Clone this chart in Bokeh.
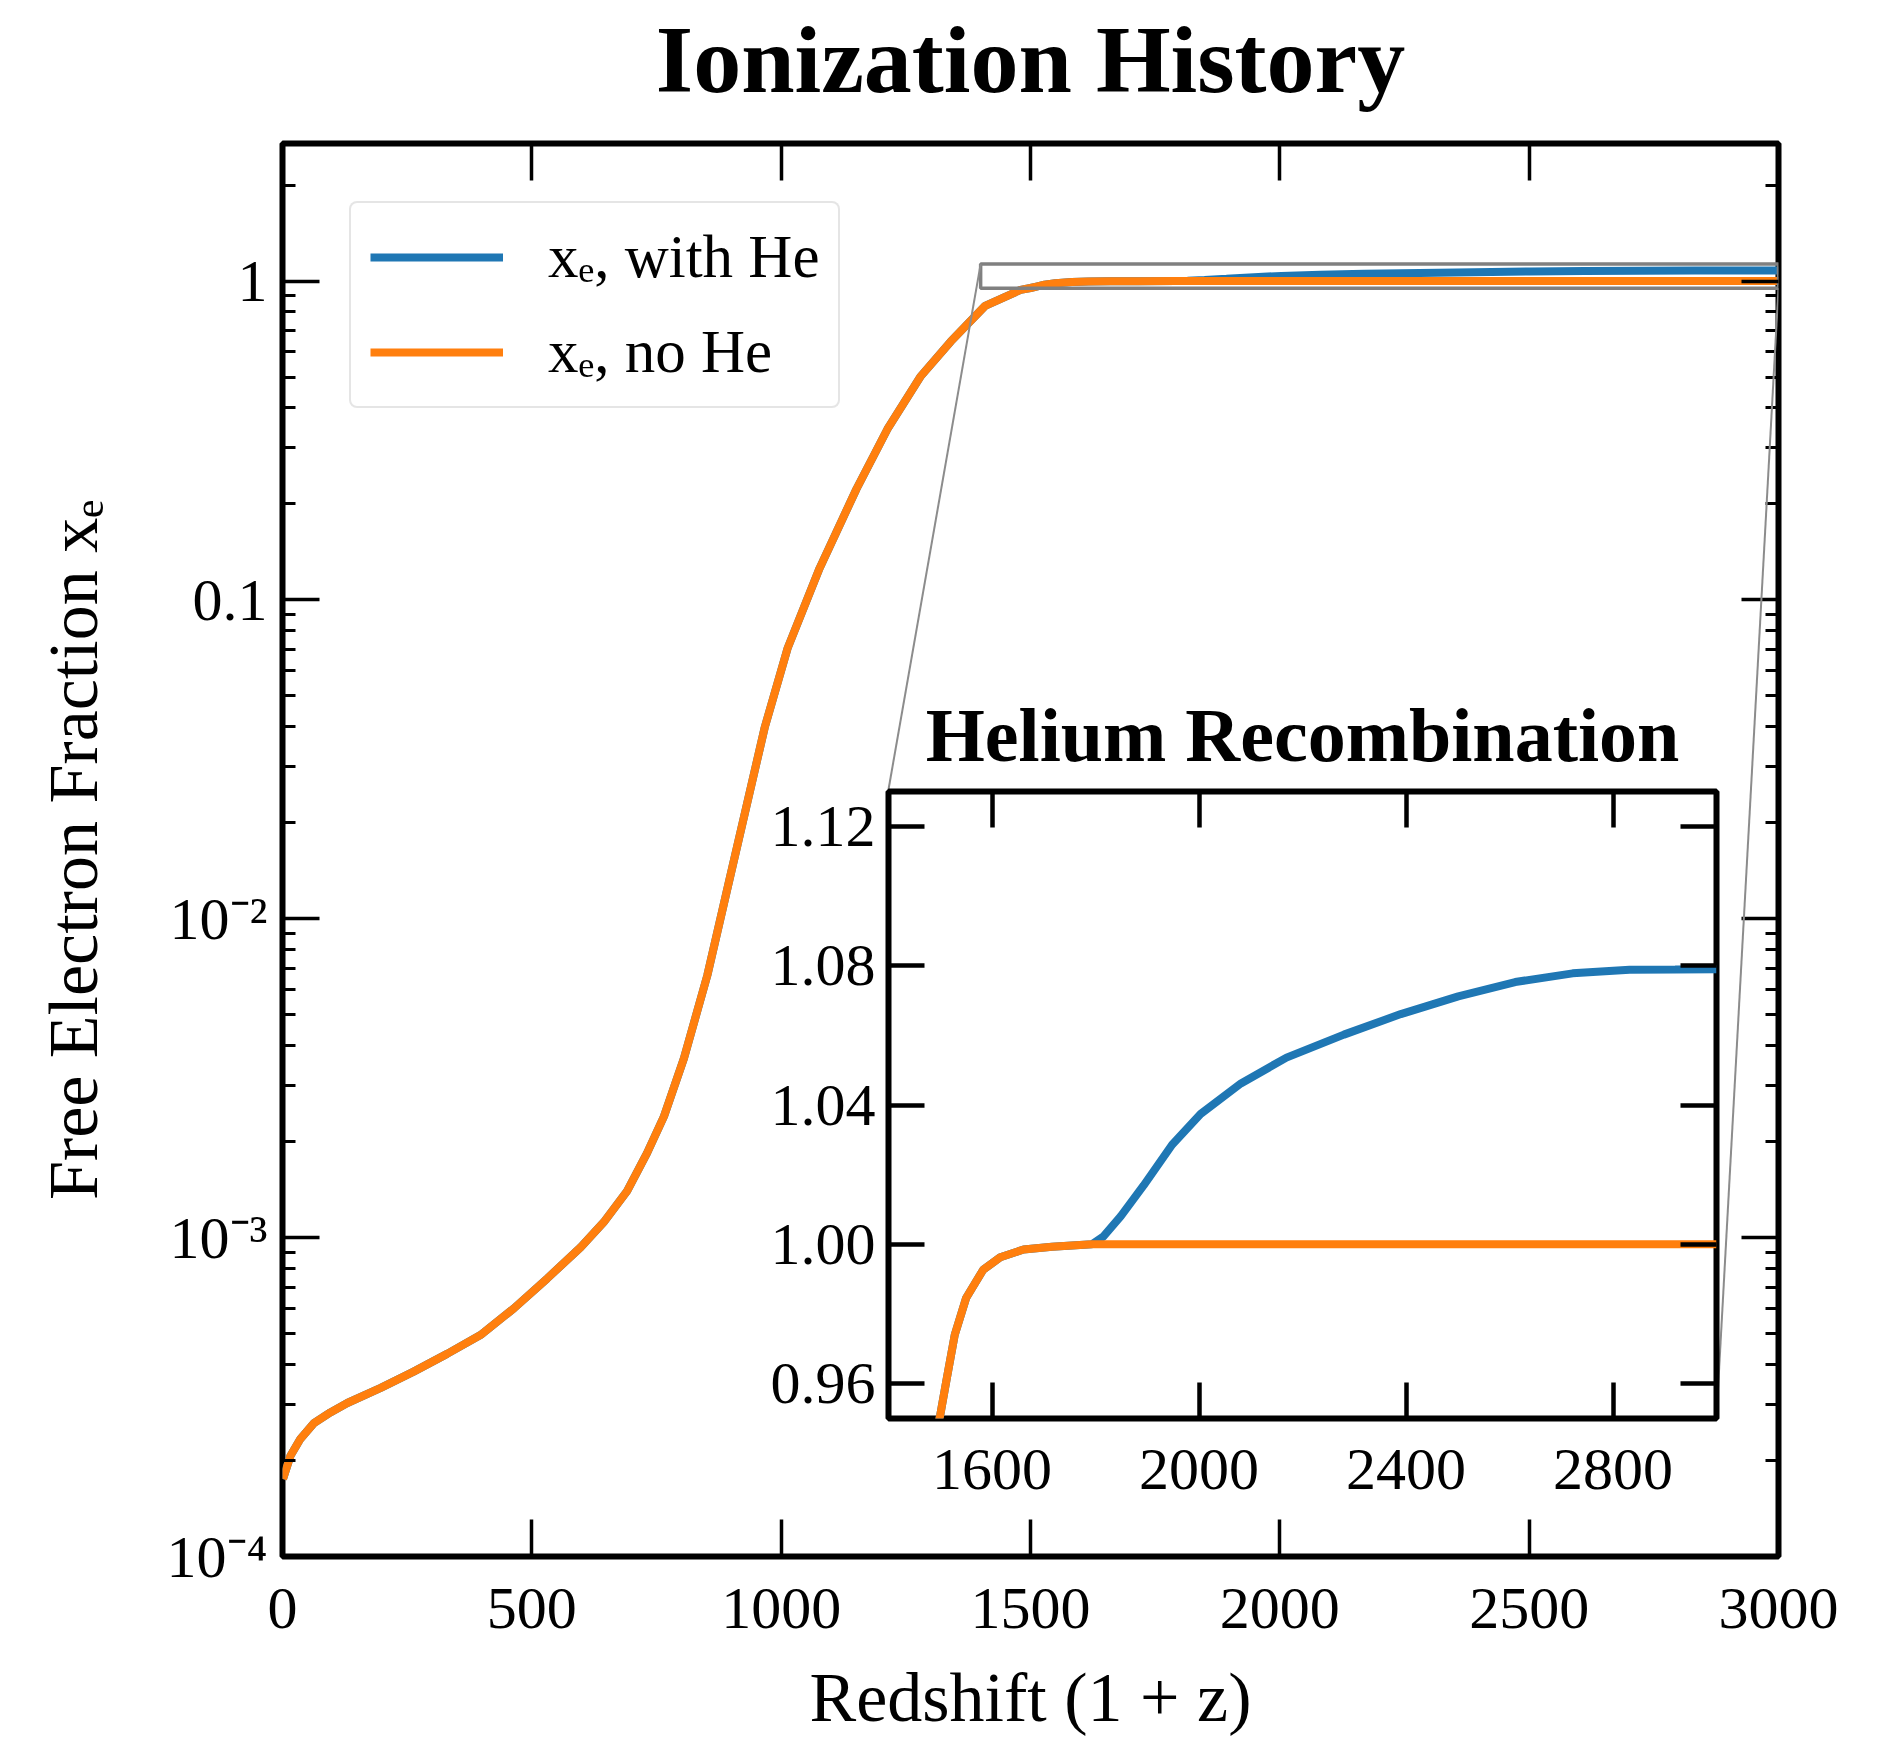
from bokeh.plotting import figure
from bokeh.models import (Range1d, LinearAxis, LogAxis, FixedTicker, Legend, LegendItem,
                          Arrow, PrintfTickFormatter, CustomJSTickFormatter)
from bokeh.layouts import column
from bokeh.embed import file_html
from bokeh.resources import INLINE

# ---------------------------------------------------------------- data
# redshift (1 + z) and free electron fraction for the two ionization histories
redshift = [1, 16, 36, 63, 96, 130, 197, 263, 330, 397,
            464, 531, 598, 644, 691, 731, 765, 805, 852, 893,
            930, 967, 1013, 1077, 1151, 1213, 1279, 1340, 1409, 1480,
            1500, 1512, 1528, 1550, 1583, 1616, 1661, 1716, 1793,
            1815, 1849, 1893, 1948, 2003, 2081, 2169, 2280, 2390, 2501,
            2611, 2722, 2832, 2920, 3000]

xe_no_he = [1.75e-4, 2.07e-4, 2.34e-4, 2.62e-4, 2.83e-4, 3.03e-4, 3.38e-4, 3.80e-4, 4.32e-4, 4.95e-4,
            6.00e-4, 7.45e-4, 9.33e-4, 1.117e-3, 1.40e-3, 1.84e-3, 2.40e-3, 3.65e-3, 6.65e-3, 1.26e-2,
            2.24e-2, 3.98e-2, 7.06e-2, 0.1256, 0.2228, 0.343, 0.501, 0.646, 0.836, 0.938,
            0.951, 0.961, 0.974, 0.9846, 0.9927, 0.9963, 0.9985, 0.9993, 1.0,
            1.0, 1.0, 1.0, 1.0, 1.0, 1.0, 1.0, 1.0, 1.0, 1.0,
            1.0, 1.0, 1.0, 1.0, 1.0]

xe_with_he = [1.75e-4, 2.07e-4, 2.34e-4, 2.62e-4, 2.83e-4, 3.03e-4, 3.38e-4, 3.80e-4, 4.32e-4, 4.95e-4,
              6.00e-4, 7.45e-4, 9.33e-4, 1.117e-3, 1.40e-3, 1.84e-3, 2.40e-3, 3.65e-3, 6.65e-3, 1.26e-2,
              2.24e-2, 3.98e-2, 7.06e-2, 0.1256, 0.2228, 0.343, 0.501, 0.646, 0.836, 0.938,
              0.951, 0.961, 0.974, 0.9846, 0.9927, 0.9963, 0.9985, 0.9993, 1.0,
              1.0022, 1.0081, 1.0169, 1.0286, 1.0374, 1.0462, 1.0536, 1.0602, 1.0661, 1.0712,
              1.0753, 1.0778, 1.0788, 1.0789, 1.0790]

series_labels = ["x\u2091, with He", "x\u2091, no He"]
series_colors = ["#1f77b4", "#ff7f0e"]

main_x_ticks = [0, 500, 1000, 1500, 2000, 2500, 3000]
main_y_ticks = [0.0001, 0.001, 0.01, 0.1, 1.0]
main_y_labels = ["10\u207b\u2074", "10\u207b\u00b3", "10\u207b\u00b2", "0.1", "1"]

zoom_x = (1400, 3000)
zoom_y = (0.95, 1.13)
zoom_x_ticks = [1600, 2000, 2400, 2800]
zoom_y_ticks = [0.96, 1.00, 1.04, 1.08, 1.12]

# ---------------------------------------------------------------- layout (px)
W, H = 1900, 1738
M_LEFT, M_RIGHT, M_TOP, M_BOTTOM = 282, 122, 143, 180

# inset frame placement on the page; the inset shares the main plot's
# horizontal borders because plots stacked in a column get their frames aligned
IN_LEFT, IN_TOP, IN_W, IN_H = 888, 791, 828, 627
IN_PAD_T, IN_PAD_B = 110, 100

FONT = "Liberation Serif"
TICK_FS = "60px"


def style_axis(ax, ticks, minor=(), labels=True, tick_len=37, tick_w=3.5):
    ax.ticker = FixedTicker(ticks=list(ticks), minor_ticks=list(minor))
    ax.axis_line_color = None
    ax.major_tick_in = tick_len
    ax.major_tick_out = 0
    ax.major_tick_line_width = tick_w
    ax.major_tick_line_color = "black"
    ax.minor_tick_in = 13
    ax.minor_tick_out = 0
    ax.minor_tick_line_width = 3
    ax.minor_tick_line_color = "black" if minor else None
    ax.major_label_text_font = FONT
    ax.axis_label_text_font = FONT
    ax.axis_label_text_color = "black"
    ax.axis_label_text_font_style = "normal"
    if labels:
        ax.major_label_text_font_size = TICK_FS
        ax.major_label_text_color = "black"
    else:
        ax.major_label_text_font_size = "1px"
        ax.major_label_text_alpha = 0
        ax.major_label_standoff = 0
        ax.formatter = CustomJSTickFormatter(code="return ''")


def heading(ax, text, size, standoff):
    """Bold heading carried by an unlabelled top axis."""
    ax.axis_label = text
    ax.axis_label_text_font_style = "bold"
    ax.axis_label_text_font_size = size
    ax.axis_label_standoff = standoff


# ---------------------------------------------------------------- main plot
p = figure(width=W, height=H, x_range=Range1d(0, 3000), y_range=Range1d(1e-4, 2.7),
           y_axis_type="log", output_backend="svg", toolbar_location=None,
           min_border_left=M_LEFT, min_border_right=M_RIGHT,
           min_border_top=M_TOP, min_border_bottom=M_BOTTOM,
           background_fill_color="white", border_fill_color="white")
p.grid.visible = False
p.outline_line_color = "black"
p.outline_line_width = 6

minor_log = [k * 10.0 ** d for d in range(-4, 1) for k in range(2, 10) if k * 10.0 ** d < 2.7]

style_axis(p.xaxis[0], main_x_ticks)
p.xaxis[0].major_label_standoff = 32
p.xaxis[0].axis_label = "Redshift (1 + z)"
p.xaxis[0].axis_label_text_font_size = "70px"
p.xaxis[0].axis_label_standoff = 28

style_axis(p.yaxis[0], main_y_ticks, minor_log)
p.yaxis[0].major_label_overrides = dict(zip(main_y_ticks, main_y_labels))
p.yaxis[0].major_label_standoff = 15
p.yaxis[0].axis_label = "Free Electron Fraction x\u2091"
p.yaxis[0].axis_label_text_font_size = "70px"
p.yaxis[0].axis_label_standoff = 52

top_ax = LinearAxis()
style_axis(top_ax, main_x_ticks, labels=False)
heading(top_ax, "Ionization History", "96px", 31)
p.add_layout(top_ax, "above")
right_ax = LogAxis()
style_axis(right_ax, main_y_ticks, minor_log, labels=False)
p.add_layout(right_ax, "right")

r_he = p.line(redshift, xe_with_he, line_color=series_colors[0], line_width=8)
r_no = p.line(redshift, xe_no_he, line_color=series_colors[1], line_width=8)

# outline of the zoomed region
p.quad(left=zoom_x[0], right=zoom_x[1], bottom=zoom_y[0], top=zoom_y[1],
       fill_color=None, line_color="#808080", line_width=3.5)

# connectors from the zoomed region to the inset frame (frame-relative screen px)
in_tl = (IN_LEFT - M_LEFT, H - M_BOTTOM - IN_TOP)
in_br = (IN_LEFT + IN_W - M_LEFT, H - M_BOTTOM - (IN_TOP + IN_H))
p.add_layout(Arrow(end=None, x_start=zoom_x[0], y_start=zoom_y[1],
                   x_end=in_tl[0], y_end=in_tl[1], end_units="screen",
                   line_color="#8c8c8c", line_width=2))
p.add_layout(Arrow(end=None, x_start=zoom_x[1], y_start=zoom_y[0],
                   x_end=in_br[0], y_end=in_br[1], end_units="screen",
                   line_color="#8c8c8c", line_width=2))

legend = Legend(items=[LegendItem(label=series_labels[0], renderers=[r_he]),
                       LegendItem(label=series_labels[1], renderers=[r_no])],
                location=(67, 1148))
legend.label_text_font = FONT
legend.label_text_font_size = "61px"
legend.label_text_color = "black"
legend.glyph_width = 133
legend.glyph_height = 40
legend.label_standoff = 45
legend.padding = 19
legend.spacing = 25
legend.margin = 0
legend.border_line_color = "#cccccc"
legend.border_line_width = 2
legend.border_radius = 8
p.add_layout(legend)

# ---------------------------------------------------------------- inset
inset = figure(width=M_LEFT + IN_W + M_RIGHT, height=IN_PAD_T + IN_H + IN_PAD_B,
               x_range=Range1d(*zoom_x), y_range=Range1d(*zoom_y),
               output_backend="svg", toolbar_location=None,
               min_border_left=M_LEFT, min_border_right=M_RIGHT,
               min_border_top=IN_PAD_T, min_border_bottom=IN_PAD_B,
               background_fill_color="white", border_fill_color=None)
inset.grid.visible = False
inset.outline_line_color = "black"
inset.outline_line_width = 6

style_axis(inset.xaxis[0], zoom_x_ticks, tick_len=36, tick_w=4.5)
inset.xaxis[0].major_label_standoff = 31
style_axis(inset.yaxis[0], zoom_y_ticks, tick_len=36, tick_w=4.5)
inset.yaxis[0].formatter = PrintfTickFormatter(format="%.2f")
inset.yaxis[0].major_label_standoff = 13
in_top = LinearAxis()
style_axis(in_top, zoom_x_ticks, labels=False, tick_len=36, tick_w=4.5)
heading(in_top, "Helium Recombination", "76px", 15)
inset.add_layout(in_top, "above")
in_right = LinearAxis()
style_axis(in_right, zoom_y_ticks, labels=False, tick_len=36, tick_w=4.5)
inset.add_layout(in_right, "right")

inset.line(redshift, xe_with_he, line_color=series_colors[0], line_width=8)
inset.line(redshift, xe_no_he, line_color=series_colors[1], line_width=8)

inset.styles = {"position": "absolute",
                "left": f"{IN_LEFT - M_LEFT}px",
                "top": f"{IN_TOP - IN_PAD_T}px",
                "z-index": "2"}

page = column(p, inset, styles={"position": "relative"})
open("out.html", "w").write(file_html(page, INLINE))
